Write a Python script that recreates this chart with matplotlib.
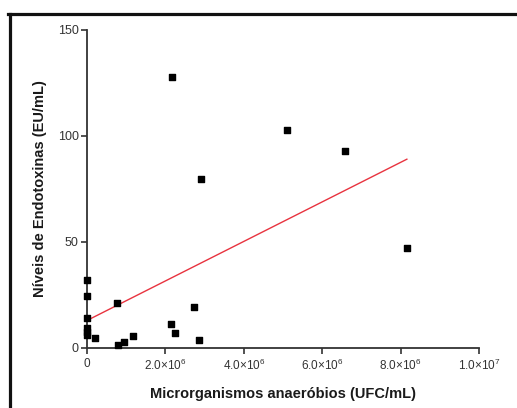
import numpy as np
import matplotlib
matplotlib.use('Agg')
import matplotlib.pyplot as plt
from matplotlib.lines import Line2D

plt.rcParams['font.family'] = ['Liberation Sans', 'DejaVu Sans']
plt.rcParams['mathtext.fontset'] = 'custom'
plt.rcParams['mathtext.rm'] = 'Liberation Sans'
plt.rcParams['mathtext.it'] = 'Liberation Sans:italic'
plt.rcParams['mathtext.bf'] = 'Liberation Sans:bold'

# Data (x in UFC/mL, y in EU/mL)
x_ufc = [0, 0, 0, 0, 0, 0, 0.2e6, 0.77e6, 0.79e6, 0.94e6, 1.17e6, 2.14e6,
         2.17e6, 2.24e6, 2.73e6, 2.86e6, 2.9e6, 5.1e6, 6.58e6, 8.16e6]
y_eu = [32, 24.5, 14, 9.4, 7.5, 6, 4.7, 21, 1.4, 2.8, 5.7, 11.3,
        127.8, 7, 19.3, 3.8, 79.7, 103, 93, 47]

xtick_vals = [0, 2e6, 4e6, 6e6, 8e6, 1e7]
xtick_labels = ['0', r'2.0$\times$10$^{6}$', r'4.0$\times$10$^{6}$',
                r'6.0$\times$10$^{6}$', r'8.0$\times$10$^{6}$', r'1.0$\times$10$^{7}$']
ytick_vals = [0, 50, 100, 150]

x = np.array(x_ufc)
y = np.array(y_eu)

# linear regression over the data range
slope, intercept = np.polyfit(x, y, 1)
xfit = np.array([x.min(), x.max()])
yfit = slope * xfit + intercept

fig = plt.figure(figsize=(5.17, 4.08), dpi=100)
ax = fig.add_axes([87/517, 60/408, 392/517, 318/408])

ax.plot(xfit, yfit, color='#e8333f', linewidth=1.0, zorder=2)
ax.scatter(x, y, marker='s', s=22, color='black', zorder=3, clip_on=False)

ax.set_xlim(0, 1e7)
ax.set_ylim(0, 150)
ax.set_xticks(xtick_vals)
ax.set_xticklabels(xtick_labels)
ax.set_yticks(ytick_vals)

for side in ['top', 'right']:
    ax.spines[side].set_visible(False)
for side in ['left', 'bottom']:
    ax.spines[side].set_color('#333333')
    ax.spines[side].set_linewidth(1.3)

ax.tick_params(axis='both', direction='out', length=4, width=1.2, color='#333333')
ax.tick_params(axis='x', labelsize=8.5, pad=3, labelcolor='#333333')
ax.tick_params(axis='y', labelsize=9, pad=2, labelcolor='#333333')

ax.set_xlabel('Microrganismos anaeróbios (UFC/mL)', fontsize=10.5,
              fontweight='bold', color='#1a1a1a', labelpad=10)
ax.set_ylabel('Níveis de Endotoxinas (EU/mL)', fontsize=10.5,
              fontweight='bold', color='#1a1a1a', labelpad=8)

# black frame on the top and left of the picture
fig.add_artist(Line2D([8/517, 1], [1 - 14/408, 1 - 14/408],
                      color='#111111', linewidth=2.3, transform=fig.transFigure))
fig.add_artist(Line2D([9.5/517, 9.5/517], [0, 1 - 14/408],
                      color='#111111', linewidth=2.3, transform=fig.transFigure))

fig.savefig('out.png', dpi=100)
